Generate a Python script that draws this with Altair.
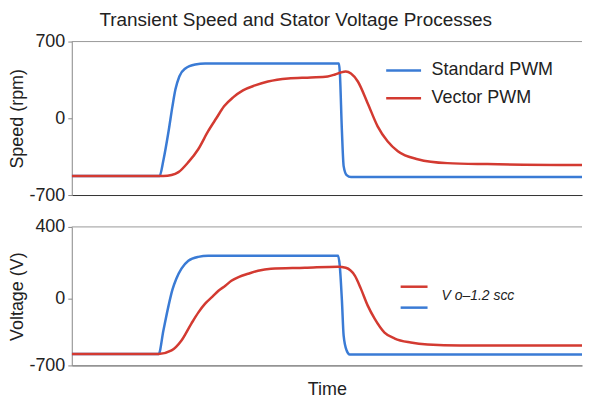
import altair as alt
import pandas as pd

# ---- data (time in seconds) ----
series_names = ["Standard PWM", "Vector PWM"]
colors = ["#3a7bd5", "#d33a31"]

# Speed, Standard PWM
t_speed_std = [0.0, 0.204, 0.213, 0.225, 0.234, 0.241, 0.250, 0.264, 0.287, 0.310, 0.621, 0.623, 0.628, 0.632,
               0.639, 0.649, 1.2]
speed_std = [-527, -527, -382, -118, 109, 264, 382, 455, 491, 500, 500, 427, -118, -436,
             -518, -536, -536]

# Speed, Vector PWM
t_speed_vec = [0.0, 0.213, 0.232, 0.248, 0.271, 0.294, 0.317, 0.336, 0.354, 0.375, 0.398, 0.426, 0.456, 0.503, 0.556,
               0.595, 0.612, 0.625, 0.637, 0.649, 0.665, 0.688, 0.711, 0.734, 0.758, 0.804, 0.873, 0.966, 1.2]
speed_vec = [-527, -527, -518, -491, -400, -282, -118, 0, 109, 191, 255, 300, 336, 364, 373,
             382, 400, 418, 427, 409, 336, 136, -73, -209, -300, -373, -409, -418, -427]

# Voltage, Standard PWM
t_volt_std = [0.0, 0.202, 0.213, 0.225, 0.234, 0.243, 0.255, 0.271, 0.294, 0.317, 0.619, 0.623, 0.628, 0.632,
              0.639, 0.646, 1.2]
volt_std = [-580, -580, -334, -73, 50, 111, 167, 211, 233, 239, 239, 183, -21, -387,
            -543, -585, -585]

# Voltage, Vector PWM
t_volt_vec = [0.0, 0.202, 0.232, 0.255, 0.278, 0.294, 0.310, 0.327, 0.341, 0.357, 0.371, 0.389, 0.410, 0.433,
              0.463, 0.542, 0.619, 0.637, 0.658, 0.672, 0.688, 0.704, 0.727, 0.751, 0.788, 0.827, 0.903, 1.2]
volt_vec = [-580, -580, -543, -439, -261, -146, -52, 11, 44, 72, 100, 122, 139, 156,
            167, 172, 178, 172, 128, 56, -73, -209, -355, -418, -460, -481, -491, -491]

speed_ticks = [-700, 0, 700]
volt_ticks = [-700, 0, 400]

FONT = "Liberation Sans"
W = 512
H1 = 154
H2 = 139
T_MAX = 1.1861


def frame(t, v, name):
    return pd.DataFrame({"t": t, "v": v, "series": name})


speed_df = pd.concat([frame(t_speed_std, speed_std, series_names[0]),
                      frame(t_speed_vec, speed_vec, series_names[1])])
volt_df = pd.concat([frame(t_volt_std, volt_std, series_names[0]),
                     frame(t_volt_vec, volt_vec, series_names[1])])
dummy = pd.DataFrame({"a": [0]})

color_scale = alt.Scale(domain=series_names, range=colors)


def y_axis(title, values):
    return alt.Axis(values=values, title=title, grid=False, labelFont=FONT, labelFontSize=18,
                    labelExpr="'' + datum.value",
                    labelColor="#222", labelPadding=3, tickSize=4, tickColor="#888",
                    domainColor="#888", titleFont=FONT, titleFontSize=18, titleFontWeight="normal",
                    titleColor="#222", titlePadding=2)


x_scale = alt.Scale(domain=[0, T_MAX], nice=False, zero=False)

top_lines = alt.Chart(speed_df).mark_line(strokeWidth=2.5, interpolate="monotone", clip=True).encode(
    x=alt.X("t:Q", scale=x_scale,
            axis=alt.Axis(labels=False, ticks=False, title=None, grid=False, domainColor="#333")),
    y=alt.Y("v:Q", scale=alt.Scale(domain=[-700, 700], nice=False, zero=False),
            axis=y_axis("Speed (rpm)", speed_ticks)),
    color=alt.Color("series:N", scale=color_scale,
                    legend=alt.Legend(title=None, orient="none", legendX=314, legendY=10,
                                      symbolType="stroke", symbolSize=1225, symbolStrokeWidth=2.5,
                                      labelFont=FONT, labelFontSize=18, labelColor="#222",
                                      labelOffset=9, rowPadding=0, padding=0)),
)
top_border = alt.Chart(dummy).mark_rule(color="#999", strokeWidth=1).encode(
    x=alt.value(0), x2=alt.value(W), y=alt.value(0))
top = alt.layer(top_border, top_lines).properties(width=W, height=H1)

bot_lines = alt.Chart(volt_df).mark_line(strokeWidth=2.5, interpolate="monotone", clip=True).encode(
    x=alt.X("t:Q", scale=x_scale,
            axis=alt.Axis(labels=False, ticks=False, title="Time", grid=False, domainColor="#444",
                          titleFont=FONT, titleFontSize=18, titleFontWeight="normal",
                          titleColor="#222", titlePadding=15)),
    y=alt.Y("v:Q", scale=alt.Scale(domain=[-700, 0, 400], range=[H2, 72, 0], nice=False, zero=False),
            axis=y_axis("Voltage (V)", volt_ticks)),
    color=alt.Color("series:N", scale=color_scale, legend=None),
)
bot_border = alt.Chart(dummy).mark_rule(color="#999", strokeWidth=1).encode(
    x=alt.value(0), x2=alt.value(W), y=alt.value(0))
leg_red = alt.Chart(dummy).mark_rule(color=colors[1], strokeWidth=2.5).encode(
    x=alt.value(330), x2=alt.value(357), y=alt.value(60))
leg_blue = alt.Chart(dummy).mark_rule(color=colors[0], strokeWidth=2.5).encode(
    x=alt.value(330), x2=alt.value(357), y=alt.value(81))
leg_text = alt.Chart(dummy).mark_text(text="V  o\u20131.2 scc", font=FONT, fontStyle="italic",
                                      fontSize=14, align="left", baseline="middle",
                                      color="#222").encode(x=alt.value(371), y=alt.value(69))
bottom = alt.layer(bot_border, bot_lines, leg_red, leg_blue, leg_text).properties(width=W, height=H2)

chart = alt.vconcat(top, bottom, spacing=32, bounds="flush").resolve_scale(color="independent").properties(
    title=alt.Title("Transient Speed and Stator Voltage Processes", font=FONT, fontSize=19,
                    fontWeight="normal", color="#222", anchor="middle", frame="bounds", offset=3),
    padding={"left": 0, "top": 2, "right": 0, "bottom": 0},
).configure_view(strokeOpacity=0)

chart.save("out.html", embed_options={"renderer": "svg", "actions": False})
